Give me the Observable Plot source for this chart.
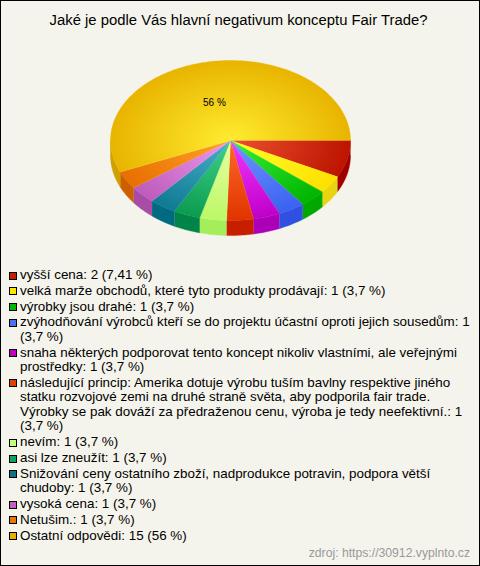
<!DOCTYPE html>
<html lang="cs">
<head>
<meta charset="utf-8">
<script src="https://cdn.jsdelivr.net/npm/d3@7"></script>
<script src="https://cdn.jsdelivr.net/npm/@observablehq/plot@0.6"></script>
<style>
html,body{margin:0;padding:0;background:#f5f4ec;}
#page{position:relative;width:480px;height:566px;box-sizing:border-box;overflow:hidden;background:#f5f4ec;font-family:"Liberation Sans",Arial,sans-serif;color:#000;}
#page:after{content:"";position:absolute;inset:0;border:1px solid #000;pointer-events:none;}
#title{position:absolute;left:0;top:12px;width:477px;text-align:center;font-size:14.85px;line-height:16px;white-space:nowrap;}
#chart{position:absolute;left:0;top:40px;}
#chart svg{display:block;background:transparent;}
#legend{position:absolute;left:9px;top:268px;width:462px;font-size:13.4px;line-height:14.5px;}
.item{position:relative;padding-left:11px;margin-bottom:1.3px;}
.sw{position:absolute;left:0;top:3.5px;width:6px;height:6px;border:1px solid #000;}
#source{position:absolute;right:10px;top:546px;font-size:12.2px;line-height:14px;color:#999;white-space:nowrap;}
</style>
</head>
<body>
<div id="page">
  <div id="title"></div>
  <div id="chart"></div>
  <div id="legend"></div>
  <div id="source"></div>
</div>
<script>
const titleText = "Jaké je podle Vás hlavní negativum konceptu Fair Trade?";
const sourceText = "zdroj: https://30912.vyplnto.cz";
const answers = [
  "vyšší cena",
  "velká marže obchodů, které tyto produkty prodávají",
  "výrobky jsou drahé",
  "zvýhodňování výrobců kteří se do projektu účastní oproti jejich sousedům",
  "snaha některých podporovat tento koncept nikoliv vlastními, ale veřejnými prostředky",
  "následující princip: Amerika dotuje výrobu tuším bavlny respektive jiného statku rozvojové zemi na druhé straně světa, aby podporila fair trade. Výrobky se pak dováží za předraženou cenu, výroba je tedy neefektivní.",
  "nevím",
  "asi lze zneužít",
  "Snižování ceny ostatního zboží, nadprodukce potravin, podpora větší chudoby",
  "vysoká cena",
  "Netušim.",
  "Ostatní odpovědi"
];
const counts = [2,1,1,1,1,1,1,1,1,1,1,15];
const percentLabels = ["7,41","3,7","3,7","3,7","3,7","3,7","3,7","3,7","3,7","3,7","3,7","56"];
// slice sizes as drawn in the picture (percent of the full turn)
const drawnShares = [7.5,3.6,3.6,3.6,3.6,3.6,3.6,3.6,3.6,3.6,3.6,56.4];
const sliceLabel = "56 %";

const legendColors = ["#c42000","#ffe600","#00b800","#4a70f0","#c000c0","#e04000","#c8ff78","#10a060","#107088","#c060c0","#e87800","#e8b000"];
const innerColors  = ["#ee5030","#ffff28","#38f038","#7095ff","#f038ff","#ff6a28","#e8ffa0","#40d088","#48b0c8","#f098f0","#ffa428","#ffec30"];
const outerColors  = ["#bc1400","#ffe000","#00b400","#3a62f0","#c000c8","#e03400","#bcf868","#0c9c50","#107a94","#bc5cbc","#e86e00","#e8b400"];
const wallColors   = ["#a00000","#e8d410","#00a800","#2f50e0","#ac00b8","#c81e00","#a4ee5c","#008448","#006a80","#a84ca8","#cc6000","#d0a000"];

const pieDepth = 0.1875;   // thickness, in units of the vertical radius
const pie = d3.pie().sort(null).startAngle(Math.PI/2).endAngle(Math.PI*2.5)(drawnShares);
const toTheta = a => a - Math.PI/2;
const arcPts = (a, b) => {
  const n = Math.max(2, Math.ceil((b - a) / 0.02));
  return d3.range(n + 1).map(k => a + (b - a) * k / n);
};
const faces = [], walls = [];
pie.forEach((s, i) => {
  const a = toTheta(s.startAngle), b = toTheta(s.endAngle);
  faces.push({i, x: 0, y: 0});
  for (const t of arcPts(a, b)) faces.push({i, x: Math.cos(t), y: Math.sin(t)});
  const e = Math.min(b, Math.PI);
  if (a < Math.PI) {
    const pts = arcPts(a, e);
    for (const t of pts) walls.push({i, x: Math.cos(t), y: Math.sin(t)});
    for (const t of pts.slice().reverse()) walls.push({i, x: Math.cos(t), y: Math.sin(t) + pieDepth});
  }
});
const big = pie[pie.length - 1];
const mid = toTheta((big.startAngle + big.endAngle) / 2);
const labelData = [{x: 0.5 * Math.cos(mid), y: 0.5 * Math.sin(mid), t: sliceLabel}];

const defs = (index, {x, y}) => {
  const svgNS = "http://www.w3.org/2000/svg";
  const d = document.createElementNS(svgNS, "defs");
  const cx = x(0), cy = y(0), rx = x(1) - x(0), ry = y(1) - y(0);
  innerColors.forEach((c, i) => {
    const g = document.createElementNS(svgNS, "radialGradient");
    g.setAttribute("id", "slice" + i);
    g.setAttribute("gradientUnits", "userSpaceOnUse");
    g.setAttribute("cx", 0); g.setAttribute("cy", 0); g.setAttribute("r", 1);
    g.setAttribute("gradientTransform", `translate(${cx},${cy}) scale(${rx},${ry})`);
    [[0, c], [1, outerColors[i]]].forEach(([o, col]) => {
      const st = document.createElementNS(svgNS, "stop");
      st.setAttribute("offset", o); st.setAttribute("stop-color", col);
      g.appendChild(st);
    });
    d.appendChild(g);
  });
  return d;
};

const chart = Plot.plot({
  width: 480, height: 220, margin: 0,
  style: {background: "transparent"},
  x: {domain: [-1, 1], range: [110, 350], axis: null},
  y: {domain: [-1, 1], range: [20, 180], axis: null},
  marks: [
    defs,
    ...wallColors.map((c, i) => Plot.line(walls.filter(d => d.i === i), {x: "x", y: "y", fill: c, stroke: c, strokeWidth: 0.4, curve: "linear"})),
    ...innerColors.map((c, i) => Plot.line(faces.filter(d => d.i === i), {x: "x", y: "y", fill: `url(#slice${i})`, stroke: `url(#slice${i})`, strokeWidth: 0.4, curve: "linear"})),
    Plot.text(labelData, {x: "x", y: "y", text: "t", fontSize: 10, fontFamily: "Liberation Sans, Arial, sans-serif", fill: "#000", dx: -4, dy: 1})
  ]
});
document.getElementById("chart").appendChild(chart);
document.getElementById("title").textContent = titleText;
document.getElementById("source").textContent = sourceText;
const legend = document.getElementById("legend");
answers.forEach((a, i) => {
  const row = document.createElement("div"); row.className = "item";
  const sw = document.createElement("span"); sw.className = "sw"; sw.style.background = legendColors[i];
  row.appendChild(sw);
  row.appendChild(document.createTextNode(`${a}: ${counts[i]} (${percentLabels[i]} %)`));
  legend.appendChild(row);
});
</script>
</body>
</html>
